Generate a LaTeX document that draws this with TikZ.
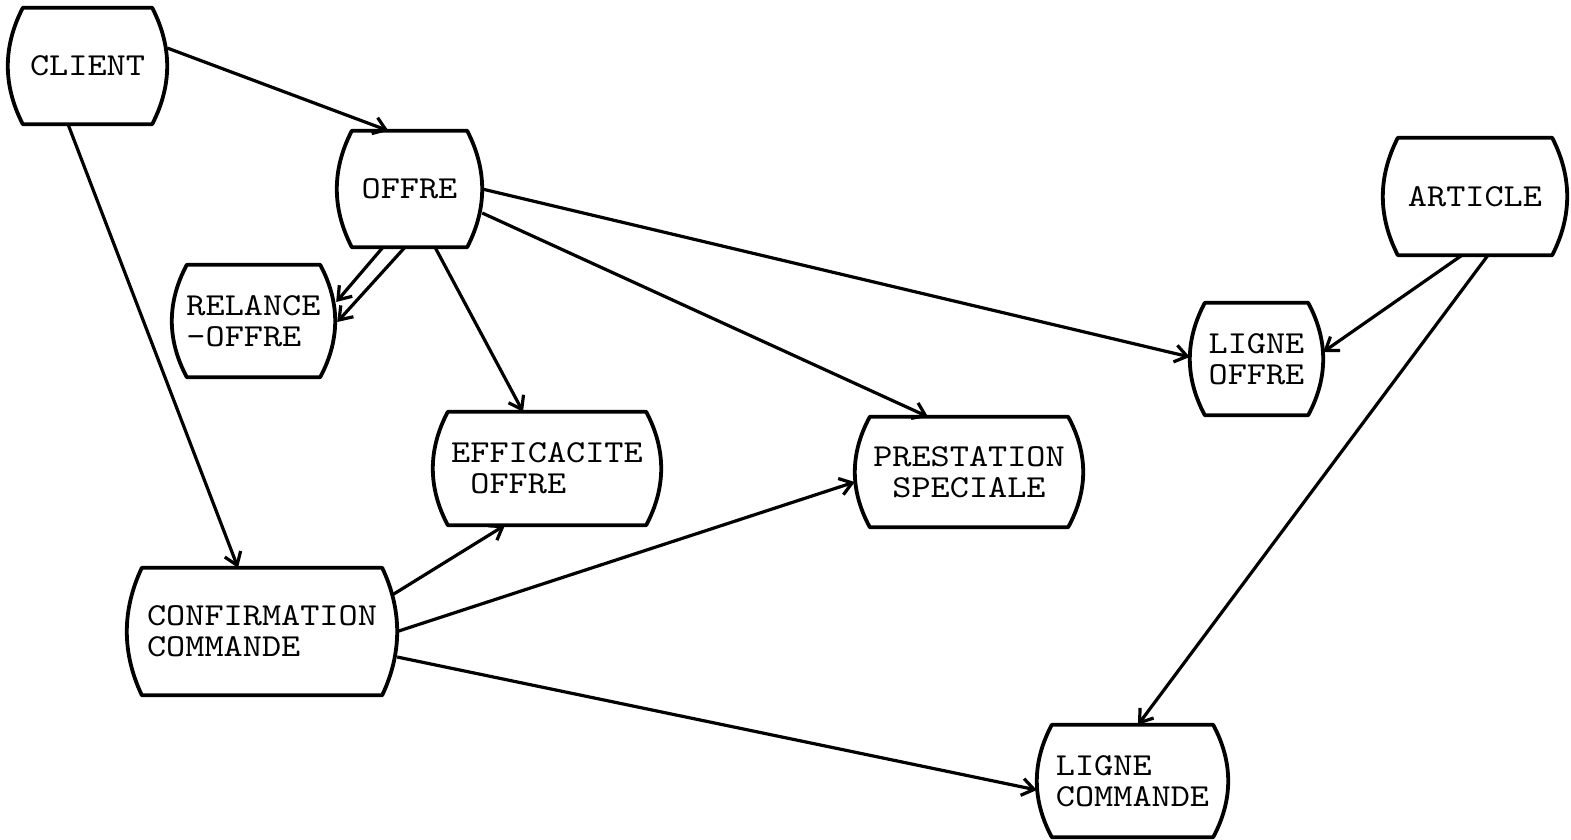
\documentclass[tikz,border=0pt]{standalone}
\usepackage{fontspec}
\newfontfamily\typewriter{lmmono10-regular.otf}[FakeStretch=1.14]
\usetikzlibrary{arrows.meta,calc}
\tikzset{
  entity/.style={inner sep=0pt, align=left,
    font=\typewriter\fontsize{32}{31}\selectfont},
  outline/.style={line width=3.8pt, line join=round},
  link/.style={line width=3.2pt, -{Straight Barb[length=12pt,width=17pt]}},
}
% straight top and bottom, sides bulging outwards
\newcommand\entityoutline[1]{%
  \draw[outline] let \p1=(#1.north west), \p2=(#1.south east),
    \n1={(\y1-\y2)/3} in
    (\x1+15pt,\y1) -- (\x2-15pt,\y1)
    .. controls (\x2+5pt,\y1-\n1) and (\x2+5pt,\y2+\n1) .. (\x2-15pt,\y2)
    -- (\x1+15pt,\y2)
    .. controls (\x1-5pt,\y2+\n1) and (\x1-5pt,\y1-\n1) .. cycle;}
\begin{document}
\begin{tikzpicture}[x=1pt,y=-1pt]
\fill[white] (0,0) rectangle (1571,840);
\useasboundingbox (0,0) rectangle (1571,840);

\node[entity, minimum width=159pt, minimum height=116pt] (client)  at (87.5,66)   {CLIENT};
\node[entity, minimum width=145pt, minimum height=116pt] (offre)   at (409.5,189) {OFFRE};
\node[entity, minimum width=163pt, minimum height=112pt] (relance) at (253.5,321) {RELANCE\\-OFFRE};
\node[entity, minimum width=228pt, minimum height=113pt] (eff)     at (547,468.5) {EFFICACITE\\\phantom{E}OFFRE};
\node[entity, align=center, minimum width=228pt, minimum height=110pt] (prest) at (969,472) {PRESTATION\\SPECIALE};
\node[entity, minimum width=133pt, minimum height=112pt] (ligneo)  at (1256.5,359) {LIGNE\\OFFRE};
\node[entity, minimum width=184pt, minimum height=117pt] (article) at (1475,196.5) {ARTICLE};
\node[entity, minimum width=270pt, minimum height=127pt] (confirm) at (262,631.5) {CONFIRMATION\\COMMANDE};
\node[entity, minimum width=191pt, minimum height=112pt] (lignec)  at (1132.5,781) {LIGNE\\COMMANDE};

\foreach \nm in {client,offre,relance,eff,prest,ligneo,article,confirm,lignec}
  {\entityoutline{\nm}}

\draw[link] ([yshift=18pt]client.east) -- ([xshift=-21pt]offre.north);
\draw[link] ([xshift=-19.5pt]client.south) -- ([xshift=-24pt]confirm.north);
\draw[link] ([xshift=-26.5pt]offre.south) -- ([xshift=1pt,yshift=19pt]relance.east);
\draw[link] ([xshift=-4.5pt]offre.south) -- ([xshift=2pt,yshift=-1pt]relance.east);
\draw[link] ([xshift=25.5pt]offre.south) -- ([xshift=-24pt]eff.north);
\draw[link] ([yshift=-24pt]offre.east) -- ([xshift=-41pt]prest.north);
\draw[link] (offre.east) -- ([yshift=2pt]ligneo.west);
\draw[link] ([xshift=-13pt]article.south) -- ([yshift=7pt]ligneo.east);
\draw[link] ([xshift=13pt]article.south) -- ([xshift=5.5pt]lignec.north);
\draw[link] ([xshift=-5pt,yshift=36.5pt]confirm.east) -- ([xshift=-42pt]eff.south);
\draw[link] (confirm.east) -- ([yshift=-10pt]prest.west);
\draw[link] ([yshift=-25.5pt]confirm.east) -- ([yshift=-9pt]lignec.west);
\end{tikzpicture}
\end{document}
